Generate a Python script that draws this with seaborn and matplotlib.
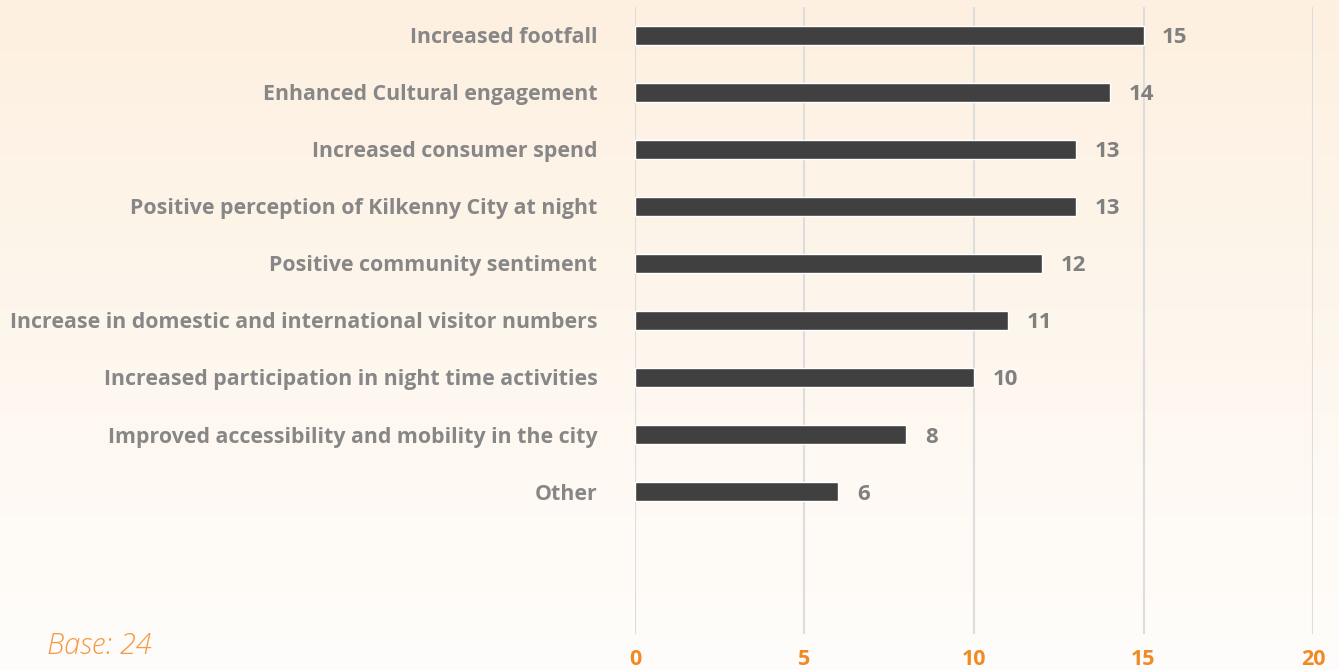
import numpy as np
import pandas as pd
import seaborn as sns
from matplotlib import pyplot as plt
from matplotlib.colors import LinearSegmentedColormap

categories = ['Increased footfall', 'Enhanced Cultural engagement', 'Increased consumer spend',
              'Positive perception of Kilkenny City at night', 'Positive community sentiment',
              'Increase in domestic and international visitor numbers',
              'Increased participation in night time activities',
              'Improved accessibility and mobility in the city', 'Other']
counts = [15, 14, 13, 13, 12, 11, 10, 8, 6]
xticks = [0, 5, 10, 15, 20]
base_note = 'Base: 24'

df = pd.DataFrame({'category': categories, 'count': counts})

sns.set_style('white')
plt.rcParams['font.family'] = ['Open Sans', 'DejaVu Sans']

fig = plt.figure(figsize=(13.39, 6.7), dpi=100)

# background gradient, peach at top fading to white
bg = fig.add_axes([0, 0, 1, 1], zorder=0)
grad = np.linspace(0, 1, 256).reshape(-1, 1)
cmap = LinearSegmentedColormap.from_list('bg', ['#fdf0e0', '#fffdfb'])
bg.imshow(grad, aspect='auto', cmap=cmap, extent=[0, 1, 0, 1], origin='upper')
bg.axis('off')

ax = fig.add_axes([0.4742, 0.0537, 0.5064, 0.9359], zorder=1)
ax.patch.set_alpha(0)
sns.barplot(data=df, y='category', x='count', orient='h', color='#404040',
            width=0.32, saturation=1, ax=ax, zorder=3)

ax.set_xlim(0, 20)
ax.set_ylim(10.5, -0.5)
ax.set_xticks(xticks)
ax.set_xticklabels([str(t) for t in xticks])
ax.set_xlabel('')
ax.set_ylabel('')
for s in ax.spines.values():
    s.set_visible(False)
ax.grid(axis='x', color='#dddddd', linewidth=1.5, zorder=0)
ax.grid(axis='y', visible=False)
ax.tick_params(axis='x', length=0, pad=11, labelsize=15.5, labelcolor='#f08a24')
ax.tick_params(axis='y', length=0, pad=27, labelsize=15.4, labelcolor='#878787')
for lab in ax.get_xticklabels():
    lab.set_fontweight('bold')
for lab in ax.get_yticklabels():
    lab.set_fontweight('bold')
    lab.set_verticalalignment('center_baseline')

for i, v in enumerate(counts):
    ax.text(v + 0.55, i, str(v), va='center_baseline', ha='left', fontsize=16,
            fontweight='bold', color='#808080')

fig.text(47 / 1339, 1 - 646 / 670, base_note, fontsize=21, style='italic',
         fontweight='light', color='#f39a45', va='center', ha='left')

plt.savefig('out.png', dpi=100)
